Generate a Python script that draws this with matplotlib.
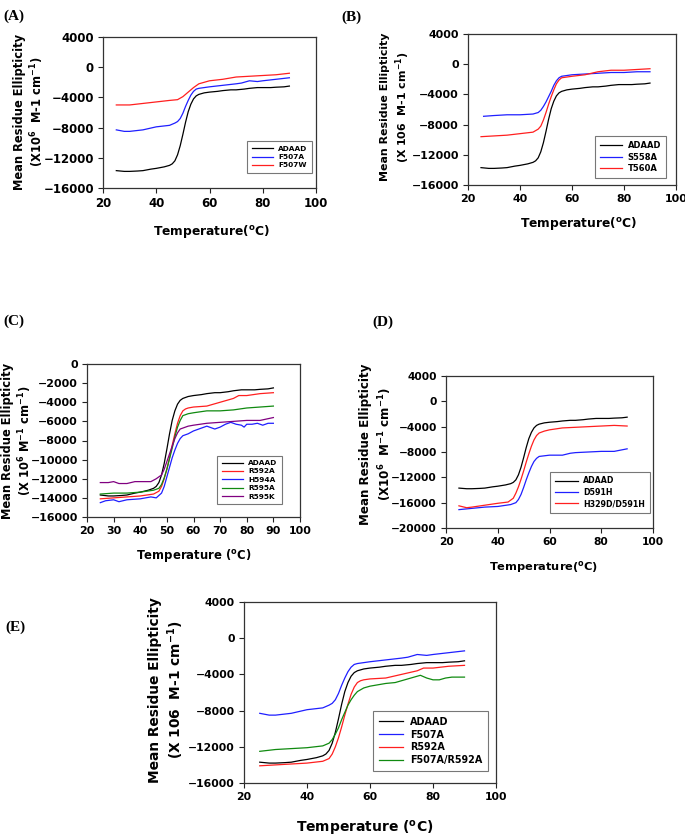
import matplotlib
matplotlib.use('Agg')
import matplotlib.pyplot as plt

plt.rcParams['font.family'] = ['DejaVu Sans']
plt.rcParams['font.weight'] = 'bold'
plt.rcParams['mathtext.fontset'] = 'custom'
plt.rcParams['mathtext.rm'] = 'DejaVu Sans:bold'
plt.rcParams['mathtext.it'] = 'DejaVu Sans:bold'
plt.rcParams['mathtext.bf'] = 'DejaVu Sans:bold'

# ---------------- data ----------------
T_ADAAD = [25, 28, 30, 33, 35, 38, 40, 43, 45, 46, 47, 48, 49, 50, 51, 52, 53, 54, 55, 56, 57, 58,
           60, 63, 65, 68, 70, 73, 75, 78, 80, 83, 85, 88, 90]
ADAAD = [-13700, -13800, -13800, -13750, -13700, -13500, -13400, -13200, -13000, -12800, -12400,
         -11600, -10400, -8900, -7300, -5900, -4900, -4200, -3800, -3600, -3500, -3400,
         -3300, -3200, -3100, -3000, -3000, -2900, -2800, -2700, -2700, -2700, -2650, -2600, -2500]

T_F507A = [25, 28, 30, 35, 40, 45, 47, 48, 49, 50, 51, 52, 53, 54, 55, 56, 58, 60, 65, 70, 72, 75,
           78, 80, 85, 90]
F507A = [-8300, -8500, -8500, -8300, -7900, -7700, -7400, -7200, -6800, -6100, -5200, -4400, -3700,
         -3200, -2900, -2800, -2700, -2600, -2400, -2200, -2100, -1800, -1900, -1800, -1600, -1400]

T_F507W = [25, 30, 35, 40, 45, 48, 50, 52, 54, 56, 58, 60, 65, 70, 75, 80, 85, 90]
F507W = [-5000, -5000, -4800, -4600, -4400, -4300, -3900, -3300, -2700, -2200, -2000, -1800,
         -1600, -1300, -1200, -1100, -1000, -800]

T_S558A = [26, 30, 35, 40, 45, 47, 48, 49, 50, 51, 52, 53, 54, 55, 56, 58, 60, 65, 70, 75, 80, 85, 90]
S558A = [-6900, -6800, -6700, -6700, -6600, -6400, -6100, -5600, -5000, -4300, -3600, -2800, -2200,
         -1800, -1600, -1500, -1400, -1300, -1200, -1100, -1100, -1000, -1000]

T_T560A = [25, 30, 35, 40, 45, 47, 48, 49, 50, 51, 52, 53, 54, 55, 56, 58, 60, 65, 70, 75, 80, 85, 90]
T560A = [-9600, -9500, -9400, -9200, -9000, -8600, -8200, -7400, -6400, -5300, -4300, -3400, -2600,
         -2100, -1800, -1700, -1600, -1400, -1000, -800, -800, -700, -600]

T_R592A = [25, 30, 35, 40, 45, 47, 48, 49, 50, 51, 52, 53, 54, 55, 56, 57, 58, 60, 65, 70, 75, 77,
           80, 85, 90]
R592A = [-14100, -14000, -13900, -13800, -13600, -13300, -12800, -12000, -11000, -9800, -8500, -7300,
         -6200, -5400, -4900, -4700, -4600, -4500, -4400, -4000, -3600, -3300, -3300, -3100, -3000]

T_H594A = [25, 27, 30, 32, 35, 40, 44, 46, 48, 49, 50, 51, 52, 53, 54, 55, 56, 58, 60, 62, 65, 68,
           70, 72, 74, 76, 78, 79, 80, 82, 84, 86, 88, 90]
H594A = [-14500, -14300, -14200, -14400, -14200, -14100, -13900, -14000, -13500, -12800, -11800,
         -10800, -9800, -9000, -8300, -7800, -7500, -7300, -7000, -6800, -6500, -6800, -6600, -6300,
         -6100, -6300, -6400, -6600, -6300, -6300, -6200, -6400, -6200, -6200]

T_R595A = [25, 30, 35, 40, 45, 47, 48, 49, 50, 51, 52, 53, 54, 55, 56, 58, 60, 65, 70, 75, 80, 85, 90]
R595A = [-13600, -13500, -13500, -13400, -13200, -13000, -12600, -11900, -11000, -9900, -8800, -7600,
         -6600, -5900, -5400, -5200, -5100, -4900, -4900, -4800, -4600, -4500, -4400]

T_R595K = [25, 28, 30, 32, 35, 38, 40, 44, 46, 48, 49, 50, 51, 52, 53, 54, 55, 56, 58, 60, 65, 70,
           75, 80, 85, 90]
R595K = [-12400, -12400, -12300, -12500, -12500, -12300, -12300, -12300, -12000, -11600, -11000,
         -10200, -9400, -8600, -7800, -7200, -6800, -6700, -6500, -6400, -6200, -6100, -6000, -5900,
         -5900, -5600]

T_D591H = [25, 30, 35, 40, 45, 47, 48, 49, 50, 51, 52, 53, 54, 55, 56, 58, 60, 65, 68, 70, 75, 80, 85, 90]
D591H = [-17100, -16900, -16700, -16600, -16300, -16000, -15500, -14700, -13600, -12400, -11300,
         -10300, -9500, -9000, -8700, -8600, -8500, -8500, -8200, -8100, -8000, -7900, -7900, -7500]

T_H329D = [25, 28, 30, 35, 40, 44, 46, 47, 48, 49, 50, 51, 52, 53, 54, 55, 56, 58, 60, 65, 70, 75,
           80, 85, 90]
H329D_D591H = [-16500, -16800, -16700, -16400, -16100, -15900, -15300, -14500, -13500, -12300, -11000,
               -9600, -8300, -7100, -6100, -5400, -5000, -4700, -4500, -4200, -4100, -4000, -3900,
               -3800, -3900]

T_F507A_R592A = [25, 30, 35, 40, 45, 47, 48, 49, 50, 51, 52, 53, 54, 55, 56, 58, 60, 65, 68, 70, 73,
                 76, 78, 80, 82, 84, 86, 90]
F507A_R592A = [-12500, -12300, -12200, -12100, -11900, -11600, -11200, -10600, -9900, -9000, -8200,
               -7400, -6800, -6300, -5900, -5500, -5300, -5000, -4900, -4700, -4400, -4100, -4400,
               -4600, -4600, -4400, -4300, -4300]

# ---------------- styling ----------------
BLACK = '#000000'
BLUE = '#1f1fff'
RED = '#ff1f1f'
GREEN = '#108a10'
PURPLE = '#800080'

W, H = 685, 840
fig = plt.figure(figsize=(W / 100, H / 100), dpi=100)


def px_axes(l, t, r, b):
    return fig.add_axes([l / W, 1 - b / H, (r - l) / W, (b - t) / H])


def ftext(x, y, s, **kw):
    fig.text(x / W, 1 - y / H, s, **kw)


def panel(rect, series, ylim, yticks, xticks, tick_fs, leg_anchor, leg_fs, handlelen):
    ax = px_axes(*rect)
    for t, v, c, lab in series:
        ax.plot(t, v, color=c, lw=0.9, label=lab)
    ax.set_xlim(20, 100)
    ax.set_ylim(*ylim)
    ax.set_xticks(xticks)
    ax.set_yticks(yticks)
    ax.tick_params(direction='out', length=3.5, width=0.8, labelsize=tick_fs, pad=3,
                   colors='#222222', labelcolor='black')
    for lab in ax.get_xticklabels() + ax.get_yticklabels():
        lab.set_fontweight('bold')
    for sp in ax.spines.values():
        sp.set_color('#333333')
        sp.set_linewidth(0.9)
    leg = ax.legend(loc='lower right', bbox_to_anchor=leg_anchor, borderaxespad=0,
                    fontsize=leg_fs, fancybox=False, edgecolor='#777777', framealpha=1,
                    handlelength=handlelen, handletextpad=0.7, labelspacing=0.3,
                    borderpad=0.6)
    leg.get_frame().set_linewidth(0.8)
    for txt in leg.get_texts():
        txt.set_fontweight('bold')
    return ax


# Panel A
panel((103, 37, 316, 188),
      [(T_ADAAD, ADAAD, BLACK, 'ADAAD'), (T_F507A, F507A, BLUE, 'F507A'),
       (T_F507W, F507W, RED, 'F507W')],
      (-16000, 4000), range(-16000, 4001, 4000), range(20, 101, 20), 8.5,
      (0.98, 0.10), 5.3, 2.9)
ftext(14, 16, '(A)', family='Liberation Serif', fontsize=11, fontweight='bold', ha='center', va='center')
ftext(20, 112, 'Mean Residue Ellipticity', rotation=90, fontsize=8.3, fontweight='bold', ha='center', va='center')
ftext(37, 112, r'(X10$^{6}$  M-1 cm$^{-1}$)', rotation=90, fontsize=8.3, fontweight='bold', ha='center', va='center')
ftext(212, 232, r'Temperature($^{o}$C)', fontsize=8.8, fontweight='bold', ha='center', va='center')

# Panel B
panel((468, 34, 676, 185),
      [(T_ADAAD, ADAAD, BLACK, 'ADAAD'), (T_S558A, S558A, BLUE, 'S558A'),
       (T_T560A, T560A, RED, 'T560A')],
      (-16000, 4000), range(-16000, 4001, 4000), range(20, 101, 20), 7.9,
      (0.952, 0.046), 6.0, 2.6)
ftext(351, 17, '(B)', family='Liberation Serif', fontsize=11, fontweight='bold', ha='center', va='center')
ftext(385, 107, 'Mean Residue Ellipticity', rotation=90, fontsize=7.9, fontweight='bold', ha='center', va='center')
ftext(403, 107, r'(X 106  M-1 cm$^{-1}$)', rotation=90, fontsize=7.9, fontweight='bold', ha='center', va='center')
ftext(579, 224, r'Temperature($^{o}$C)', fontsize=8.8, fontweight='bold', ha='center', va='center')

# Panel C
panel((87, 364, 300, 517),
      [(T_ADAAD, ADAAD, BLACK, 'ADAAD'), (T_R592A, R592A, RED, 'R592A'),
       (T_H594A, H594A, BLUE, 'H594A'), (T_R595A, R595A, GREEN, 'R595A'),
       (T_R595K, R595K, PURPLE, 'R595K')],
      (-16000, 0), range(-16000, 1, 2000), range(20, 101, 10), 7.9,
      (0.915, 0.085), 5.3, 2.9)
ftext(14, 321, '(C)', family='Liberation Serif', fontsize=11, fontweight='bold', ha='center', va='center')
ftext(8, 441, 'Mean Residue Ellipticity', rotation=90, fontsize=8.3, fontweight='bold', ha='center', va='center')
ftext(25, 441, r'(X 10$^{6}$ M$^{-1}$ cm$^{-1}$)', rotation=90, fontsize=8.3, fontweight='bold', ha='center', va='center')
ftext(194, 555, r'Temperature ($^{o}$C)', fontsize=8.4, fontweight='bold', ha='center', va='center')

# Panel D
panel((446, 376, 653, 528),
      [(T_ADAAD, ADAAD, BLACK, 'ADAAD'), (T_D591H, D591H, BLUE, 'D591H'),
       (T_H329D, H329D_D591H, RED, 'H329D/D591H')],
      (-20000, 4000), range(-20000, 4001, 4000), range(20, 101, 20), 7.7,
      (0.985, 0.10), 5.7, 2.9)
ftext(383, 322, '(D)', family='Liberation Serif', fontsize=11, fontweight='bold', ha='center', va='center')
ftext(365, 444, 'Mean Residue Ellipticity', rotation=90, fontsize=8.6, fontweight='bold', ha='center', va='center')
ftext(385, 444, r'(X10$^{6}$  M$^{-1}$ cm$^{-1}$)', rotation=90, fontsize=8.6, fontweight='bold', ha='center', va='center')
ftext(544, 567, r'Temperature($^{o}$C)', fontsize=8.2, fontweight='bold', ha='center', va='center')

# Panel E
panel((244, 602, 496, 783),
      [(T_ADAAD, ADAAD, BLACK, 'ADAAD'), (T_F507A, F507A, BLUE, 'F507A'),
       (T_R592A, R592A, RED, 'R592A'), (T_F507A_R592A, F507A_R592A, GREEN, 'F507A/R592A')],
      (-16000, 4000), range(-16000, 4001, 4000), range(20, 101, 20), 7.8,
      (0.968, 0.066), 6.9, 2.5)
ftext(15, 627, '(E)', family='Liberation Serif', fontsize=11, fontweight='bold', ha='center', va='center')
ftext(155, 690, 'Mean Residue Ellipticity', rotation=90, fontsize=9.9, fontweight='bold', ha='center', va='center')
ftext(176, 690, r'(X 106  M-1 cm$^{-1}$)', rotation=90, fontsize=9.9, fontweight='bold', ha='center', va='center')
ftext(365, 829, r'Temperature ($^{o}$C)', fontsize=10, fontweight='bold', ha='center', va='center')

fig.savefig('out.png', dpi=100)
